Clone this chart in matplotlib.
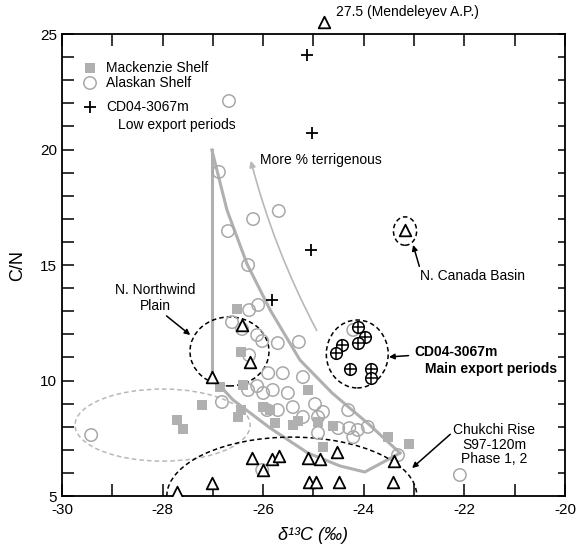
import matplotlib
matplotlib.use("Agg")
import matplotlib.pyplot as plt
import numpy as np
from matplotlib.patches import Ellipse

plt.rcParams['font.family'] = ['Liberation Sans', 'DejaVu Sans']
plt.rcParams['axes.unicode_minus'] = False

# Mackenzie Shelf (grey squares)
mack_d13c = [-26.52, -26.44, -26.86, -26.40, -27.22, -27.71, -27.59, -26.50, -26.44, -26.00,
             -25.86, -25.77, -25.41, -25.31, -25.11, -24.91, -24.61, -24.81, -23.52, -23.10]
mack_cn = [13.10, 11.23, 9.72, 9.81, 8.94, 8.29, 7.90, 8.42, 8.72, 8.85,
           8.72, 8.16, 8.07, 8.25, 9.59, 8.20, 8.03, 7.12, 7.55, 7.25]

# Alaskan Shelf (open grey circles)
alask_d13c = [-26.68, -26.88, -25.69, -26.20, -26.70, -26.30, -26.10, -26.28, -26.62, -26.42,
              -26.12, -26.02, -25.71, -25.29, -26.28, -25.90, -25.61, -25.21, -26.30, -26.12,
              -26.00, -25.81, -25.51, -26.82, -25.92, -25.71, -25.41, -25.21, -24.97, -24.81,
              -24.91, -24.31, -24.51, -24.29, -24.12, -23.92, -24.21, -24.91, -23.32, -22.09,
              -29.42, -26.02, -24.21]
alask_cn = [22.10, 19.03, 17.34, 16.99, 16.47, 15.00, 13.27, 13.05, 12.53, 12.23,
            11.97, 11.71, 11.62, 11.67, 11.10, 10.32, 10.32, 10.15, 9.59, 9.76,
            9.46, 9.59, 9.46, 9.07, 8.72, 8.72, 8.85, 8.42, 8.98, 8.64,
            8.42, 8.72, 7.94, 7.94, 7.86, 7.99, 7.55, 7.73, 6.77, 5.91,
            7.64, 6.13, 12.19]

# basin sites (open triangles)
tri_d13c = [-26.42, -26.26, -27.02, -23.18, -26.22, -26.00, -25.83, -25.69, -25.11, -24.87,
            -24.53, -23.40, -27.02, -27.71, -25.08, -24.95, -24.49, -23.42]
tri_cn = [12.40, 10.80, 10.15, 16.52, 6.65, 6.13, 6.60, 6.73, 6.65, 6.60,
          6.90, 6.52, 5.56, 5.17, 5.61, 5.61, 5.61, 5.61]
mendel_d13c = -24.8
mendel_cn = 27.5

# CD04-3067m
low_d13c = [-25.12, -25.03, -25.05, -25.83]
low_cn = [24.09, 20.72, 15.67, 13.50]
main_d13c = [-24.12, -23.98, -24.12, -24.43, -24.55, -24.27, -23.86, -23.86]
main_cn = [12.31, 11.88, 11.62, 11.54, 11.19, 10.50, 10.50, 10.12]

# mixing envelope
env_vert_x = [-27.02, -27.02]
env_vert_y = [19.98, 10.15]
env_right_x = [-27.02, -26.72, -26.32, -25.86, -25.27, -24.63, -23.88, -23.28]
env_right_y = [19.98, 17.38, 15.04, 13.05, 10.89, 9.46, 8.07, 6.86]
env_low_x = [-27.02, -26.60, -25.86, -25.11, -24.47, -23.98, -23.28]
env_low_y = [10.15, 9.16, 7.94, 6.86, 6.30, 6.04, 6.86]

grey = '#b0b0b0'

fig = plt.figure(figsize=(5.76, 5.47), dpi=100)
ax = fig.add_axes([0.1076, 0.0932, 0.8733, 0.8446])

ax.plot(env_vert_x, env_vert_y, color=grey, lw=2.2, zorder=1)
ax.plot(env_right_x, env_right_y, color=grey, lw=2.2, zorder=1)
ax.plot(env_low_x, env_low_y, color=grey, lw=2.2, zorder=1)

# arrow "more terrigenous"
ax.annotate('', xy=(-26.26, 19.63), xytext=(-24.91, 12.06),
            arrowprops=dict(arrowstyle='-|>', color='#b8b8b8', lw=1.2,
                            connectionstyle='arc3,rad=-0.06', mutation_scale=9))
ax.text(-26.06, 19.55, 'More % terrigenous', fontsize=10, va='center')

# dashed envelopes
ax.add_patch(Ellipse((-26.67, 11.26), 1.57, 2.99, fill=False, ls=(0, (3, 2)), lw=1.1, color='k', zorder=2))
ax.add_patch(Ellipse((-23.18, 16.47), 0.46, 1.23, fill=False, ls=(0, (3, 2)), lw=1.1, color='k', zorder=2))
ax.add_patch(Ellipse((-24.13, 11.15), 1.23, 2.94, fill=False, ls=(0, (3, 2)), lw=1.1, color='k', zorder=2))
ax.add_patch(Ellipse((-28.0, 8.07), 3.48, 3.12, fill=False, ls=(0, (3, 2)), lw=1.1, color='#b8b8b8', zorder=2))
ax.add_patch(Ellipse((-25.43, 5.0), 4.97, 5.1, fill=False, ls=(0, (3, 2)), lw=1.1, color='k', zorder=2))

ax.scatter(alask_d13c, alask_cn, s=80, facecolors='none', edgecolors='#a8a8a8', lw=1.1, zorder=3)
ax.scatter(mack_d13c, mack_cn, s=60, marker='s', color='#b0b0b0', lw=0, zorder=4)
ax.scatter(tri_d13c, tri_cn, s=70, marker='^', facecolors='white', edgecolors='k', lw=1.3, zorder=5)
ax.scatter(low_d13c, low_cn, s=70, marker='+', color='k', lw=1.3, zorder=5)
ax.scatter(main_d13c, main_cn, s=70, facecolors='white', edgecolors='k', lw=1.1, zorder=5)
ax.scatter(main_d13c, main_cn, s=70, marker='+', color='k', lw=1.1, zorder=6)

# off-scale Mendeleyev point drawn at the top edge
ax.scatter([mendel_d13c], [25.5], s=70, marker='^', facecolors='white', edgecolors='k', lw=1.3,
           clip_on=False, zorder=6)
ax.text(mendel_d13c + 0.25, 25.65, '%.1f (Mendeleyev A.P.)' % mendel_cn, fontsize=10, va='bottom')

# annotations
ax.annotate('N. Northwind\nPlain', xy=(-27.45, 11.97), xytext=(-28.15, 13.57), fontsize=10,
            ha='center', va='center', multialignment='center',
            arrowprops=dict(arrowstyle='-|>', color='k', lw=1.1, mutation_scale=8, shrinkA=0, shrinkB=0,
                            relpos=(0.6, 0.0)))
ax.annotate('N. Canada Basin', xy=(-23.02, 15.87), xytext=(-22.88, 14.52), fontsize=10,
            ha='left', va='center',
            arrowprops=dict(arrowstyle='-|>', color='k', lw=1.1, mutation_scale=8, shrinkA=0, shrinkB=0,
                            relpos=(0.0, 1.0)))
ax.annotate('CD04-3067m', xy=(-23.5, 11.02), xytext=(-23.0, 11.22), fontsize=10,
            ha='left', va='center', fontweight='bold',
            arrowprops=dict(arrowstyle='-|>', color='k', lw=1.1, mutation_scale=8, shrinkA=2, shrinkB=0))
ax.text(-22.78, 10.52, 'Main export periods', fontsize=10, fontweight='bold', va='center')
ax.annotate('Chukchi Rise\nS97-120m\nPhase 1, 2', xy=(-23.04, 6.21), xytext=(-21.41, 7.22), fontsize=10,
            ha='center', va='center', multialignment='center', linespacing=1.05,
            arrowprops=dict(arrowstyle='-|>', color='k', lw=1.1, mutation_scale=8, shrinkA=0, shrinkB=0,
                            relpos=(0.0, 0.8)))

# legend drawn by hand
t = ax.transAxes
ax.scatter([0.0557], [0.926], s=60, marker='s', color='#b0b0b0', lw=0, transform=t, clip_on=False)
ax.scatter([0.0557], [0.894], s=80, facecolors='none', edgecolors='#a8a8a8', lw=1.1, transform=t)
ax.scatter([0.0557], [0.842], s=70, marker='+', color='k', lw=1.3, transform=t)
ax.text(0.0875, 0.926, 'Mackenzie Shelf', transform=t, fontsize=10, va='center')
ax.text(0.0875, 0.894, 'Alaskan Shelf', transform=t, fontsize=10, va='center')
ax.text(0.0875, 0.842, 'CD04-3067m', transform=t, fontsize=10, va='center')
ax.text(0.111, 0.803, 'Low export periods', transform=t, fontsize=10, va='center')

ax.set_xlim(-30, -20)
ax.set_ylim(5, 25)
ax.set_xticks(np.arange(-30, -19, 2))
ax.set_xticks(np.arange(-30, -19, 1), minor=True)
ax.set_yticks(np.arange(5, 26, 5))
ax.set_yticks(np.arange(5, 26, 1), minor=True)
ax.tick_params(which='both', direction='in', top=True, right=True, length=8.5, width=1.1,
               labelsize=11)
ax.tick_params(axis='x', pad=5)
for tk in ax.yaxis.get_major_ticks() + ax.yaxis.get_minor_ticks():
    tk.tick2line.set_markersize(5)
for s in ax.spines.values():
    s.set_linewidth(1.3)

ax.set_xlabel('δ¹³C (‰)', fontsize=13, fontstyle='italic', labelpad=7)
ax.set_ylabel('C/N', fontsize=13, labelpad=10)

fig.savefig('out.png', dpi=100)
